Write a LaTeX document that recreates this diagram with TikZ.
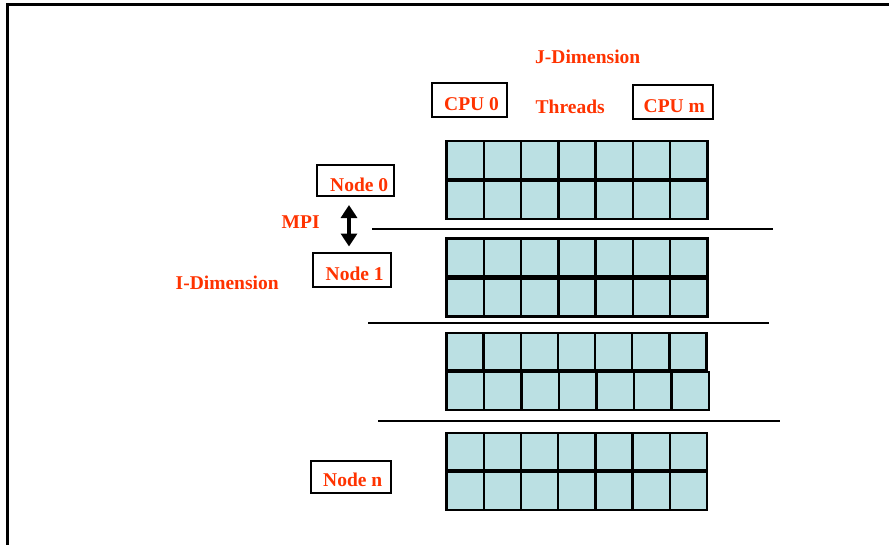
\documentclass[tikz,border=0pt]{standalone}
\usepackage{fontspec}
\setmainfont{Liberation Serif}
\usetikzlibrary{arrows.meta}
\definecolor{lbl}{RGB}{255,51,0}
\definecolor{cell}{RGB}{187,224,227}
\tikzset{
  lbltxt/.style={anchor=base west, inner sep=0pt, text=lbl,
    font=\bfseries\fontsize{19.5}{21}\selectfont},
  framebox/.style={draw=black, line width=2pt, inner sep=0pt},
  cellbox/.style={draw=black, fill=cell, line width=2.4pt},
  sepline/.style={draw=black, line width=2pt},
  mpiarrow/.style={line width=3.5pt, {Triangle[width=16pt,length=13pt]}-{Triangle[width=16pt,length=13pt]}},
}
\newcommand{\gridrow}[3]{% top y, bottom y, right x
  \pgfmathsetmacro{\cw}{(#3-446.5)/7}
  \foreach \k in {0,...,6}{
    \draw[cellbox] ({446.5+\k*\cw},#1) rectangle ({446.5+(\k+1)*\cw},#2);
  }
}
\begin{document}
\begin{tikzpicture}[x=1pt,y=-1pt]
\useasboundingbox (0,0) rectangle (889,544);
\fill[white] (0,0) rectangle (889,544);
% outer frame
\draw[line width=3pt] (7.5,560) -- (7.5,4.5) -- (900,4.5);

% labels
\node[lbltxt] (jdim) at (535,63) {J-Dimension};
\node[lbltxt] (threads) at (535.5,113) {Threads};
\node[lbltxt] (mpi) at (281.5,228) {MPI};
\node[lbltxt] (idim) at (175.5,289) {I-Dimension};

% boxes
\node[framebox, minimum width=75pt, minimum height=34pt] (cpu0) at (469,100.3) {};
\node[lbltxt] (cpu0t) at (444,110) {CPU 0};
\node[framebox, minimum width=80pt, minimum height=34pt] (cpum) at (672.8,102) {};
\node[lbltxt] (cpumt) at (643.5,112) {CPU m};
\node[framebox, minimum width=77pt, minimum height=31pt] (node0) at (355,180.5) {};
\node[lbltxt] (node0t) at (330,191) {Node 0};
\node[framebox, minimum width=78pt, minimum height=34pt] (node1) at (351.5,270.2) {};
\node[lbltxt] (node1t) at (325.5,280.5) {Node 1};
\node[framebox, minimum width=80pt, minimum height=32pt] (noden) at (351,476.7) {};
\node[lbltxt] (nodent) at (323,486.7) {Node n};

% MPI arrow
\coordinate (mpitop) at (349,205);
\coordinate (mpibot) at (349,246.5);
\draw[mpiarrow] (mpitop) -- (mpibot);

% separator lines
\coordinate (s1a) at (372,229); \coordinate (s1b) at (773,229);
\coordinate (s2a) at (368,323); \coordinate (s2b) at (769,323);
\coordinate (s3a) at (378,420.5); \coordinate (s3b) at (779.5,420.5);
\draw[sepline] (s1a) -- (s1b);
\draw[sepline] (s2a) -- (s2b);
\draw[sepline] (s3a) -- (s3b);

% grids
\gridrow{141}{178.8}{707.5}
\gridrow{180.8}{219}{707.5}
\gridrow{238.5}{276.3}{707.5}
\gridrow{278.3}{316.5}{707.5}
\gridrow{332.7}{370}{706.5}
\gridrow{372}{410}{709}
\gridrow{433}{469.8}{707}
\gridrow{471.8}{510}{707}
\end{tikzpicture}
\end{document}
